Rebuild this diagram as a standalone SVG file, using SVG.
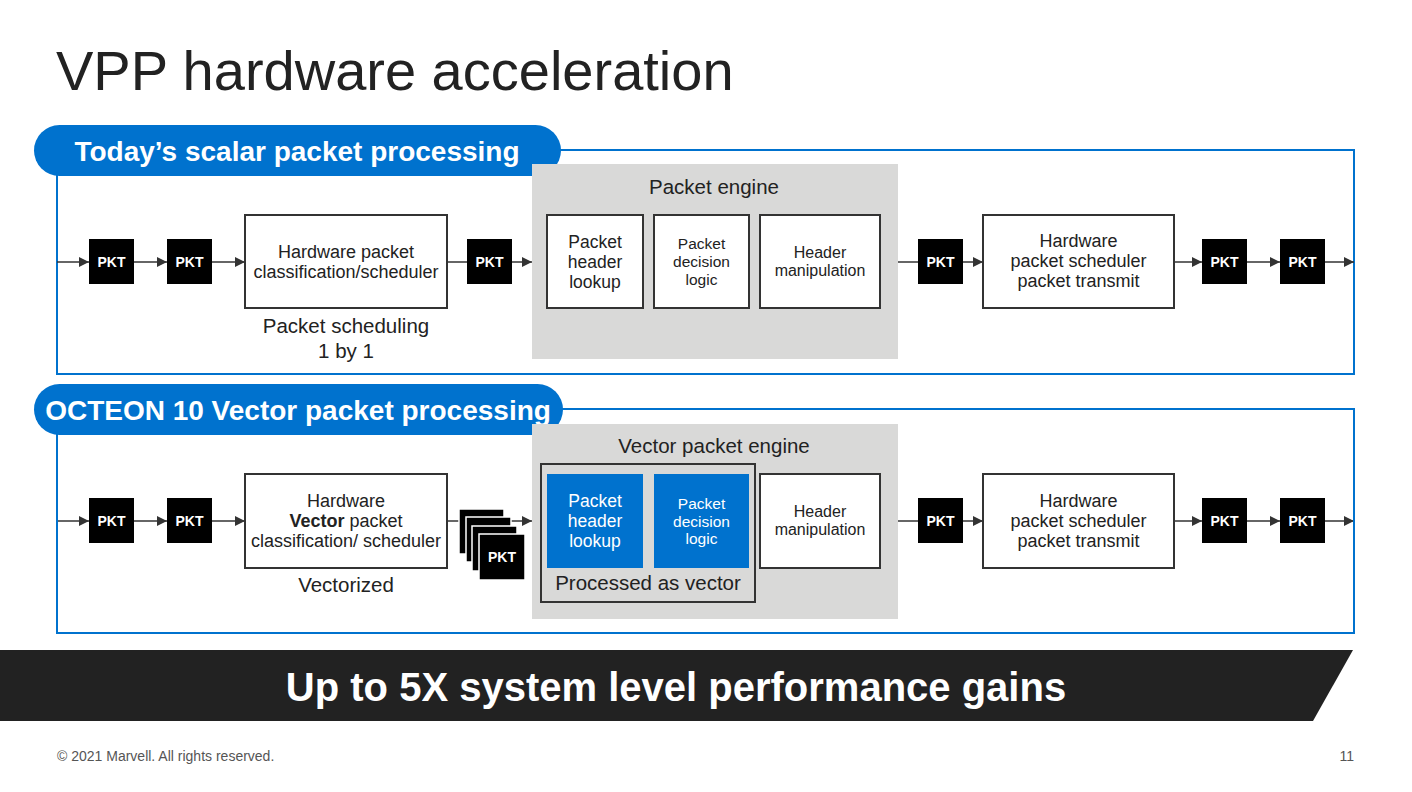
<svg xmlns="http://www.w3.org/2000/svg" width="1412" height="792" viewBox="0 0 1412 792">
<style>
text{font-family:"Liberation Sans",Arial,Helvetica,sans-serif;}
.title{font-size:56px;fill:#222;}
.pill{fill:#0072ce;}
.pilltxt{font-size:28px;font-weight:bold;fill:#fff;text-anchor:middle;}
.frame{fill:none;stroke:#0072ce;stroke-width:2;}
.engine{fill:#d9d9d8;}
.box{fill:#fff;stroke:#333;stroke-width:2;}
.bbox{fill:#0072ce;}
.pkt{fill:#000;}
.pkttxt{font-size:14px;font-weight:bold;fill:#fff;text-anchor:middle;}
.t{font-size:17.5px;fill:#222;text-anchor:middle;}
.tc{font-size:18px;fill:#222;text-anchor:middle;}
.ts{font-size:15.5px;fill:#222;text-anchor:middle;}
.tm{font-size:16px;fill:#222;text-anchor:middle;}
.tw{font-size:17.5px;fill:#fff;text-anchor:middle;}
.tws{font-size:15.5px;fill:#fff;text-anchor:middle;}
.lbl{font-size:20.5px;fill:#222;text-anchor:middle;}
.ln{stroke:#333;stroke-width:1.5;fill:none;}
.arr{stroke:#333;stroke-width:1.5;fill:none;marker-end:url(#ah);}
</style>
<defs>
<marker id="ah" viewBox="0 0 10 10" refX="10" refY="5" markerWidth="10" markerHeight="10" markerUnits="userSpaceOnUse" orient="auto">
<path d="M0,0 L10,5 L0,10 z" fill="#333"/>
</marker>
</defs>
<rect width="1412" height="792" fill="#fff"/>
<text class="title" x="56" y="90">VPP hardware acceleration</text>

<!-- Top panel -->
<g id="panel-top">
<rect class="frame" x="57" y="150" width="1297" height="224"/>
<rect class="pill" x="34" y="125" width="527" height="51" rx="25.5"/>
<text class="pilltxt" x="297" y="161">Today’s scalar packet processing</text>
</g>
<g id="engine-top">
<rect class="engine" x="532" y="164" width="366" height="195"/>
<text class="lbl" x="714" y="194">Packet engine</text>
</g>

<g id="connectors">
<!-- top flow -->
<line class="arr" x1="57" y1="262" x2="89" y2="262"/>
<line class="arr" x1="134" y1="262" x2="167" y2="262"/>
<line class="arr" x1="212" y1="262" x2="245" y2="262"/>
<line class="ln" x1="447" y1="262" x2="467" y2="262"/>
<line class="arr" x1="512" y1="262" x2="532" y2="262"/>
<line class="ln" x1="898" y1="262" x2="918" y2="262"/>
<line class="arr" x1="963" y1="262" x2="983" y2="262"/>
<line class="arr" x1="1174" y1="262" x2="1202" y2="262"/>
<line class="arr" x1="1247" y1="262" x2="1280" y2="262"/>
<line class="arr" x1="1325" y1="262" x2="1354" y2="262"/>
<!-- bottom flow -->
<line class="arr" x1="57" y1="521" x2="89" y2="521"/>
<line class="arr" x1="134" y1="521" x2="167" y2="521"/>
<line class="arr" x1="212" y1="521" x2="245" y2="521"/>
<line class="ln" x1="447" y1="521" x2="460" y2="521"/>
<line class="arr" x1="504" y1="521" x2="532" y2="521"/>
<line class="ln" x1="898" y1="521" x2="918" y2="521"/>
<line class="arr" x1="963" y1="521" x2="983" y2="521"/>
<line class="arr" x1="1174" y1="521" x2="1202" y2="521"/>
<line class="arr" x1="1247" y1="521" x2="1280" y2="521"/>
<line class="arr" x1="1325" y1="521" x2="1354" y2="521"/>
</g>

<g id="t-pkt1"><rect class="pkt" x="89" y="239" width="45" height="45"/><text class="pkttxt" x="111.5" y="267">PKT</text></g>
<g id="t-pkt2"><rect class="pkt" x="167" y="239" width="45" height="45"/><text class="pkttxt" x="189.5" y="267">PKT</text></g>
<g id="t-classifier"><rect class="box" x="245" y="215" width="202" height="93"/>
<text class="tc" x="346" y="258">Hardware packet</text><text class="tc" x="346" y="278">classification/scheduler</text></g>
<text class="lbl" x="346" y="333">Packet scheduling</text>
<text class="lbl" x="346" y="358">1 by 1</text>
<g id="t-pkt3"><rect class="pkt" x="467" y="239" width="45" height="45"/><text class="pkttxt" x="489.5" y="267">PKT</text></g>
<g id="t-lookup"><rect class="box" x="547" y="215" width="96" height="93"/>
<text class="t" x="595" y="248">Packet</text><text class="t" x="595" y="268">header</text><text class="t" x="595" y="288">lookup</text></g>
<g id="t-decision"><rect class="box" x="654" y="215" width="95" height="93"/>
<text class="ts" x="701.5" y="249">Packet</text><text class="ts" x="701.5" y="267">decision</text><text class="ts" x="701.5" y="285">logic</text></g>
<g id="t-manip"><rect class="box" x="760" y="215" width="120" height="93"/>
<text class="tm" x="820" y="258">Header</text><text class="tm" x="820" y="276">manipulation</text></g>
<g id="t-pkt4"><rect class="pkt" x="918" y="239" width="45" height="45"/><text class="pkttxt" x="940.5" y="267">PKT</text></g>
<g id="t-transmit"><rect class="box" x="983" y="215" width="191" height="93"/>
<text class="tc" x="1078.5" y="247">Hardware</text><text class="tc" x="1078.5" y="267">packet scheduler</text><text class="tc" x="1078.5" y="287">packet transmit</text></g>
<g id="t-pkt5"><rect class="pkt" x="1202" y="239" width="45" height="45"/><text class="pkttxt" x="1224.5" y="267">PKT</text></g>
<g id="t-pkt6"><rect class="pkt" x="1280" y="239" width="45" height="45"/><text class="pkttxt" x="1302.5" y="267">PKT</text></g>

<!-- Bottom panel -->
<g id="panel-bottom">
<rect class="frame" x="57" y="409" width="1297" height="224"/>
<rect class="pill" x="34" y="384" width="529" height="51" rx="25.5"/>
<text class="pilltxt" x="298" y="420">OCTEON 10 Vector packet processing</text>
</g>
<g id="engine-bottom">
<rect class="engine" x="532" y="424" width="366" height="195"/>
<text class="lbl" x="714" y="453">Vector packet engine</text>
</g>
<g id="vector-group">
<rect x="541" y="464" width="214" height="138" fill="none" stroke="#333" stroke-width="2"/>
<text class="lbl" x="648" y="590">Processed as vector</text>
</g>

<g id="b-pkt1"><rect class="pkt" x="89" y="498" width="45" height="45"/><text class="pkttxt" x="111.5" y="526">PKT</text></g>
<g id="b-pkt2"><rect class="pkt" x="167" y="498" width="45" height="45"/><text class="pkttxt" x="189.5" y="526">PKT</text></g>
<g id="b-classifier"><rect class="box" x="245" y="474" width="202" height="94"/>
<text class="tc" x="346" y="507">Hardware</text>
<text class="tc" x="346" y="527"><tspan font-weight="bold">Vector</tspan> packet</text>
<text class="tc" x="346" y="547">classification/ scheduler</text></g>
<text class="lbl" x="346" y="592">Vectorized</text>
<g id="b-pktstack">
<rect class="pkt" x="459" y="509" width="45" height="45" stroke="#fff" stroke-width="1.5"/>
<rect class="pkt" x="466" y="517" width="45" height="45" stroke="#fff" stroke-width="1.5"/>
<rect class="pkt" x="472" y="526" width="45" height="45" stroke="#fff" stroke-width="1.5"/>
<rect class="pkt" x="479" y="534" width="46" height="46" stroke="#fff" stroke-width="1.5"/>
<text class="pkttxt" x="502" y="562">PKT</text>
</g>
<g id="b-lookup"><rect class="bbox" x="547" y="474" width="96" height="94"/>
<text class="tw" x="595" y="507">Packet</text><text class="tw" x="595" y="527">header</text><text class="tw" x="595" y="547">lookup</text></g>
<g id="b-decision"><rect class="bbox" x="654" y="474" width="95" height="94"/>
<text class="tws" x="701.5" y="509">Packet</text><text class="tws" x="701.5" y="527">decision</text><text class="tws" x="701.5" y="544">logic</text></g>
<g id="b-manip"><rect class="box" x="760" y="474" width="120" height="94"/>
<text class="tm" x="820" y="517">Header</text><text class="tm" x="820" y="535">manipulation</text></g>
<g id="b-pkt4"><rect class="pkt" x="918" y="498" width="45" height="45"/><text class="pkttxt" x="940.5" y="526">PKT</text></g>
<g id="b-transmit"><rect class="box" x="983" y="474" width="191" height="94"/>
<text class="tc" x="1078.5" y="507">Hardware</text><text class="tc" x="1078.5" y="527">packet scheduler</text><text class="tc" x="1078.5" y="547">packet transmit</text></g>
<g id="b-pkt5"><rect class="pkt" x="1202" y="498" width="45" height="45"/><text class="pkttxt" x="1224.5" y="526">PKT</text></g>
<g id="b-pkt6"><rect class="pkt" x="1280" y="498" width="45" height="45"/><text class="pkttxt" x="1302.5" y="526">PKT</text></g>

<!-- Banner -->
<g id="banner">
<polygon points="0,650 1353,650 1313,721 0,721" fill="#222"/>
<text x="676" y="701" font-size="40" font-weight="bold" fill="#fff" text-anchor="middle">Up to 5X system level performance gains</text>
</g>
<text x="57" y="761" font-size="14" fill="#555">© 2021 Marvell. All rights reserved.</text>
<text x="1354" y="761" font-size="14" fill="#555" text-anchor="end">11</text>
</svg>
